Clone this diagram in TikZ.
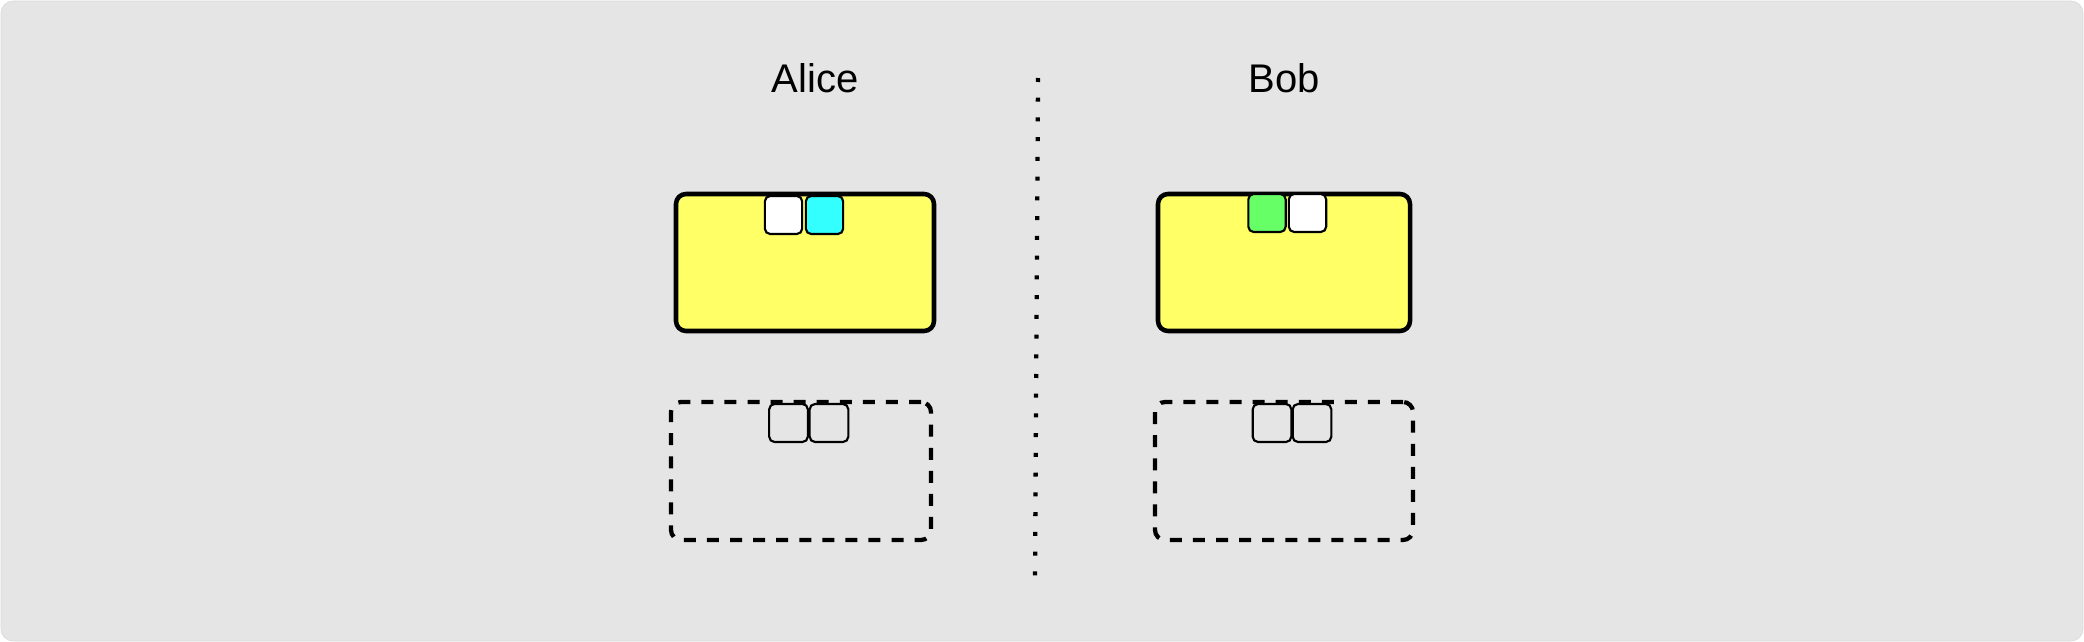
\documentclass[tikz,border=0pt]{standalone}
\usepackage{fontspec}
\setmainfont{Liberation Sans}
\definecolor{bggray}{HTML}{E5E5E5}
\definecolor{boxyellow}{HTML}{FFFF66}
\definecolor{slotcyan}{HTML}{33FFFF}
\definecolor{slotgreen}{HTML}{66FF66}
\begin{document}
\begin{tikzpicture}[x=0.75pt,y=-0.75pt,
  memory/.style={draw=black,line width=3.4pt,fill=boxyellow,rounded corners=7.5pt,inner sep=0pt},
  ghost/.style={draw=black,line width=3.2pt,dash pattern=on 9pt off 8.3pt,rounded corners=7.5pt,inner sep=0pt},
  slot/.style={draw=black,line width=1.6pt,rounded corners=4pt,inner sep=0pt,minimum width=28pt,minimum height=28.5pt},
  ghostslot/.style={draw=black,line width=1.6pt,rounded corners=4pt,inner sep=0pt,minimum width=29pt,minimum height=28.5pt},
  namelabel/.style={font=\fontsize{30}{36}\selectfont,anchor=base,inner sep=0pt},
  divider/.style={line width=3.2pt,dash pattern=on 3pt off 11.8pt}]
\useasboundingbox (0,0) rectangle (2084,642);
\node[fill=bggray,draw=bggray!95!black,line width=0.5pt,rounded corners=9pt,minimum width=2082*0.75pt,minimum height=640*0.75pt,inner sep=0pt] (bg) at (1042,321) {};

\node[namelabel] (alice) at (815,93) {Alice};
\node[namelabel] (bob) at (1284,93) {Bob};

\coordinate (dtop) at (1038,78);
\coordinate (dbot) at (1035,576);
\draw[divider] (dtop) -- (dbot);

% Alice
\node[memory,minimum width=258*0.75pt,minimum height=137*0.75pt] (amem) at (805,262.5) {};
\node[slot,fill=white] (aslot1) at (783.5,215) {};
\node[slot,fill=slotcyan] (aslot2) at (824.5,215) {};
\node[ghost,minimum width=260*0.75pt,minimum height=138*0.75pt] (aghost) at (801,471) {};
\node[ghostslot] (agslot1) at (788.5,423) {};
\node[ghostslot] (agslot2) at (829,423) {};

% Bob
\node[memory,minimum width=252*0.75pt,minimum height=137*0.75pt] (bmem) at (1284,262.5) {};
\node[slot,fill=slotgreen] (bslot1) at (1267,213) {};
\node[slot,fill=white] (bslot2) at (1307.5,213) {};
\node[ghost,minimum width=258*0.75pt,minimum height=138*0.75pt] (bghost) at (1284,471) {};
\node[ghostslot] (bgslot1) at (1272,423) {};
\node[ghostslot] (bgslot2) at (1312,423) {};
\end{tikzpicture}
\end{document}
